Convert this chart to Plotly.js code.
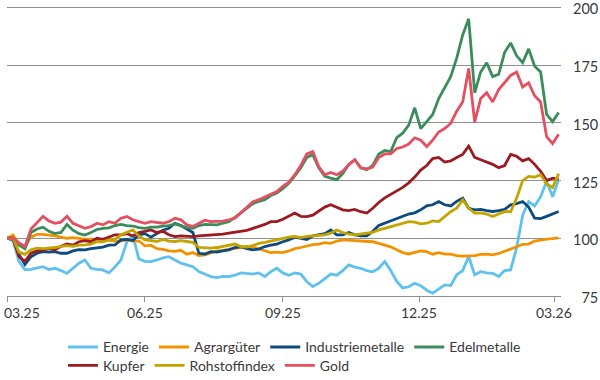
<!DOCTYPE html>
<html>
<head>
<meta charset="utf-8">
<script src="https://cdn.plot.ly/plotly-3.0.1.min.js"></script>
<style>html,body{margin:0;padding:0;background:#fff;}#chart{width:600px;height:380px;}</style>
</head>
<body>
<div id="chart"></div>
<script>
const dates = ['2025-03-01','2025-03-05','2025-03-09','2025-03-13','2025-03-17','2025-03-21','2025-03-25','2025-03-29',
'2025-04-02','2025-04-06','2025-04-10','2025-04-14','2025-04-18','2025-04-22','2025-04-26','2025-04-30',
'2025-05-04','2025-05-08','2025-05-12','2025-05-16','2025-05-20','2025-05-24','2025-05-28',
'2025-06-01','2025-06-05','2025-06-09','2025-06-13','2025-06-17','2025-06-21','2025-06-25','2025-06-29',
'2025-07-03','2025-07-07','2025-07-11','2025-07-15','2025-07-19','2025-07-23','2025-07-27','2025-07-31',
'2025-08-04','2025-08-08','2025-08-12','2025-08-16','2025-08-20','2025-08-24','2025-08-28',
'2025-09-01','2025-09-05','2025-09-09','2025-09-13','2025-09-17','2025-09-21','2025-09-25','2025-09-29',
'2025-10-03','2025-10-07','2025-10-11','2025-10-15','2025-10-19','2025-10-23','2025-10-27','2025-10-31',
'2025-11-04','2025-11-08','2025-11-12','2025-11-16','2025-11-20','2025-11-24','2025-11-28',
'2025-12-02','2025-12-06','2025-12-10','2025-12-14','2025-12-18','2025-12-22','2025-12-26','2025-12-30',
'2026-01-03','2026-01-07','2026-01-11','2026-01-15','2026-01-19','2026-01-23','2026-01-27','2026-01-31',
'2026-02-04','2026-02-08','2026-02-12','2026-02-16','2026-02-20','2026-02-24','2026-02-28','2026-03-04'];

const energie = [100,99,90,86.3,86.5,87,87.7,86.5,87,86,84.8,87,89.2,90.6,87,86.5,86.3,85,87.5,90.6,98.5,101,91,90,
89.9,90.6,91.5,92,90.5,89.2,88.5,87.7,85.6,84.5,83.4,83,83.5,83.4,84,85,84.8,84.5,85,83.4,85.5,87,85,84,85,84.5,
81.3,79.1,80.5,82.5,84.5,84,86,88.5,87.5,87,86,85.5,87,89.9,86,81.3,78.5,79,80.5,79.5,77.5,76.2,78,79.8,79.5,
84.2,86,92.1,84.2,85.5,85,84.8,83.4,86,86.3,96,110,115.9,114,118,124.6,118,125.4];

const agrar = [100,101.4,97.5,96.5,100.5,101.7,101.7,101.5,101,100.5,100,100.3,99.8,99.6,99.6,99.4,99.6,99.2,98.8,
98.8,99.3,98.8,98.8,96.7,97,95.5,95.2,94.5,94.3,94.8,93.1,93.8,92.5,92.8,93.5,94.5,94.8,95.2,95.8,96,96.5,96.2,
95.5,94.5,93.8,94,93.8,94.5,95.5,96,96.7,97.2,97.5,98.1,97.8,98.8,99.3,99.2,98.8,98.8,98.8,98.5,97.8,97,96.3,95,
93.8,93.2,93.8,94.5,94.2,93.1,93.8,93.1,93.1,92.5,92.3,92.3,92.5,93,93.1,92.8,93.4,94.4,95.2,96.3,97.4,97.5,98.8,
99.3,99.6,99.8,100.2];

const industrie = [100,99.5,93,88.6,92,93.5,94.2,94,94.2,93.5,93.5,94.5,95.1,95,95.5,95.7,96.2,97,97.1,99.3,99.5,99,
101.5,102,100.5,102,103.5,104.3,106.5,105.5,104,102.5,93.5,93.2,94.2,94,94.5,95,96,96.4,95.5,95,95.3,96.4,97,97.5,
98.5,99.3,100.5,100,99.5,101,101.5,102,103.6,101.5,101.5,102.5,101.5,101,101,103,105.5,106.5,107.5,108.5,109.5,
110.5,111,112.3,114,114.5,115.9,114.5,114,116,117.4,113,112.3,112.5,112,111.6,112,112.5,114.5,115,115.9,113.5,
108.7,108.5,109.5,110.5,111.6];

const edel = [100,100,97,95.5,102.5,104,104.8,103,102,102.5,106,103.5,102,101.4,102.5,103.8,104.3,104.5,105.5,106,
105.5,105.3,104.6,104.3,104.8,104.8,105.3,105.5,106.2,105.5,104.6,104.3,105.5,106,106,105.8,106.5,107.2,109,111,
113,115,116,116.7,118.5,119.6,121.5,123.8,127,130.5,135,136.2,130.5,126.8,126,125.4,128,132,134,130.5,129.7,131.5,
136.5,138,137.5,143.6,145.5,149,156.5,147.5,150.5,153.6,160.5,165,170,178,188,195,163,172,176,170,171,180.5,184.6,
179,176,182,174.5,172,153.6,150.5,154.5];

const kupfer = [100,100,92,90,93.5,94.5,95,95.5,95,96.5,97.5,97,98.5,99,98.5,100,99.5,100.5,101.5,101.5,102,101,102.5,
103,103.6,102.5,103,101.5,100.7,101,100.7,100.7,101,101.2,101.4,101.4,101.8,102.2,102.5,103,103.4,104.3,105,106,
107.2,107.2,108.2,109.5,110.9,109.5,109.4,110,111.6,113.5,114.5,113.5,112.3,112,112.5,111.5,110.9,113,115.5,117.5,
119,120.5,122,124,126.5,129.5,131.5,134.5,135,133,133.5,135,136.3,139.9,135,134,133,132,130.5,131.5,136.3,135.5,
133.5,134.5,132,129,125,126,125.5];

const rohstoff = [100,100,94,93,95,95.7,95.5,95.7,96,96.5,96.8,96.5,97,97.1,97.5,98.6,98.5,99.3,99.5,101.5,102.5,103.6,
101,99.3,99,98.6,99.5,98.8,98.6,99,98.6,98.2,96,95.7,95.7,96,96.4,97,97.5,96.4,96.2,96.8,97.8,98.2,98.8,99.5,100,
100.5,100.8,100.3,100.8,101,101.2,101.5,102.2,103.6,102.5,101.8,101.5,102,102.2,102.5,103.6,104.3,105,105.8,106.5,
107.2,107,106.2,106.5,107.5,107.2,109.5,111.5,113,116.7,113,110.9,111,110.5,109.4,110.5,111.6,111.5,117.4,125,126.8,
126.5,127.5,123.5,122,128];

const gold = [100,100,98,96.5,104,107,109.5,107.5,106.5,107,109.5,106.5,105.5,104.3,105,106.5,105.8,107.2,106.5,108.7,
109.4,108,107.2,106.5,107.2,106.8,106.5,107.2,108.7,108,105.8,105.1,106.5,107.8,107.2,107.2,107.4,108,108.7,111,
113.5,115.8,116.7,117.8,118.8,120.2,122.5,124.3,127.5,131.5,136.5,137.5,131,127.5,128.5,127.5,129,131.8,134,130.5,
130,130.8,135,136.5,136.5,138.9,139.5,140.8,143.5,142.5,139.7,142.5,146,147.5,149.7,155,159,173.5,150.3,160.5,163,
159,164.4,167.3,170.5,172,165.5,167.3,161.7,159,144,141,145];

const seriesNames = ['Energie','Agrargüter','Industriemetalle','Edelmetalle','Kupfer','Rohstoffindex','Gold'];
const seriesValues = [energie, agrar, industrie, edel, kupfer, rohstoff, gold];
const seriesColors = ['#5ec1ee','#f39200','#0d4a7f','#3b8c5c','#9b1b20','#c3a400','#e3505f'];

const xTickVals = ['2025-03-01','2025-06-01','2025-09-01','2025-12-01','2026-03-01'];
const xTickText = ['03.25','06.25','09.25','12.25','03.26'];
const yTickVals = [75,100,125,150,175,200];
const yTickText = ['75','100','125','150','175','200'];

const FONT = 'Lato, "Open Sans", sans-serif';
const TXT = '#3a3a3a';
const GRID = '#909090';

const traces = seriesNames.map((n, i) => ({
  type: 'scatter', mode: 'lines', name: n,
  x: dates, y: seriesValues[i],
  line: {color: seriesColors[i], width: 2.8},
  legend: i < 4 ? 'legend' : 'legend2',
  hoverinfo: 'skip'
}));

const annotations = xTickVals.map((v, i) => ({
  x: v, xref: 'x', y: 0, yref: 'paper',
  text: xTickText[i], showarrow: false,
  xanchor: i === 0 ? 'left' : 'center', yanchor: 'middle',
  xshift: i === 0 ? -5.5 : 0, yshift: -16,
  font: {family: FONT, size: 14, color: TXT}
}));

const layout = {
  width: 600, height: 380,
  margin: {l: 7, r: 39, t: 5, b: 84, autoexpand: false},
  paper_bgcolor: '#ffffff', plot_bgcolor: '#ffffff',
  font: {family: FONT, size: 14, color: TXT},
  showlegend: true,
  xaxis: {
    type: 'date', range: ['2025-03-01', '2026-03-05 14:00'],
    tickvals: xTickVals, ticktext: xTickText, showticklabels: false,
    showgrid: false, zeroline: false,
    showline: true, linecolor: GRID, linewidth: 1,
    ticks: 'outside', ticklen: 5, tickcolor: GRID, tickwidth: 1
  },
  yaxis: {
    side: 'right', range: [75, 201], autorange: false,
    tickmode: 'array', tickvals: yTickVals,
    ticktext: yTickText.map(t => t.length < 3 ? '\u2007' + t : t),
    ticklabeloverflow: 'allow',
    ticklabelshift: 2,
    showgrid: true, gridcolor: GRID, gridwidth: 1,
    zeroline: false, showline: false, ticks: '',
    ticklabelstandoff: 11,
    tickfont: {family: FONT, size: 14.5, color: TXT}
  },
  legend: {
    orientation: 'h', x: 0.101, xanchor: 'left', y: -0.1767, yanchor: 'middle',
    font: {family: FONT, size: 14, color: TXT}, bgcolor: 'rgba(0,0,0,0)', borderwidth: 0
  },
  legend2: {
    orientation: 'h', x: 0.101, xanchor: 'left', y: -0.240, yanchor: 'middle',
    font: {family: FONT, size: 14, color: TXT}, bgcolor: 'rgba(0,0,0,0)', borderwidth: 0
  },
  annotations: annotations
};

Plotly.newPlot('chart', traces, layout, {staticPlot: true, displayModeBar: false});
</script>
</body>
</html>
